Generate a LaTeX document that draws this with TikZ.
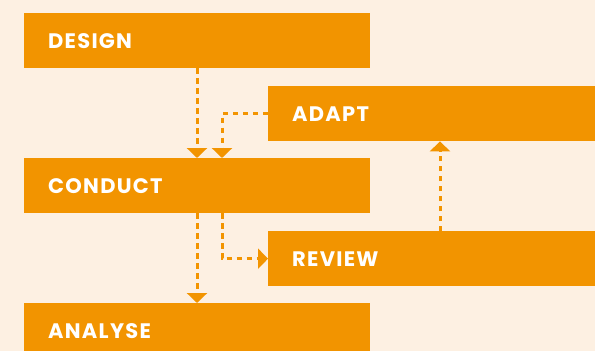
\documentclass[tikz,border=0pt]{standalone}
\usepackage{fontspec}
\newfontfamily\boxfont{Poppins}[LetterSpace=6]
\usetikzlibrary{arrows.meta}
\definecolor{boxorange}{RGB}{242,148,0}
\definecolor{bgpeach}{RGB}{253,240,226}
\tikzset{
  stagebox/.style={fill=boxorange, draw=none, anchor=north west, minimum height=55pt,
    inner xsep=24pt, inner ysep=0pt, align=left, text=white,
    font=\boxfont\bfseries\fontsize{21}{21}\selectfont},
  leftbox/.style={stagebox, text width=298pt},
  rightbox/.style={stagebox, text width=292pt},
  flow/.style={draw=boxorange, line width=3pt, dash pattern=on 5.5pt off 4.5pt,
    -{Triangle[width=20pt,length=10pt]}},
}
\begin{document}
\begin{tikzpicture}[x=1pt,y=-1pt]
\fill[bgpeach] (0,0) rectangle (595,351);
\useasboundingbox (0,0) rectangle (595,351);
\node[leftbox]  (design)  at (24,13)  {DESIGN};
\node[rightbox] (adapt)   at (268,86) {ADAPT};
\node[leftbox]  (conduct) at (24,158) {CONDUCT};
\node[rightbox] (review)  at (268,231) {REVIEW};
\node[leftbox]  (analyse) at (24,303) {ANALYSE};
\draw[flow] ([xshift=173pt]design.south west) -- ([xshift=173pt]conduct.north west);
\draw[flow] (adapt.west) -| ([xshift=198pt]conduct.north west);
\draw[flow] ([xshift=198pt]conduct.south west) |- (review.west);
\draw[flow] ([xshift=173pt]conduct.south west) -- ([xshift=173pt]analyse.north west);
\draw[flow] ([xshift=172pt]review.north west) -- ([xshift=172pt]adapt.south west);
\end{tikzpicture}
\end{document}
